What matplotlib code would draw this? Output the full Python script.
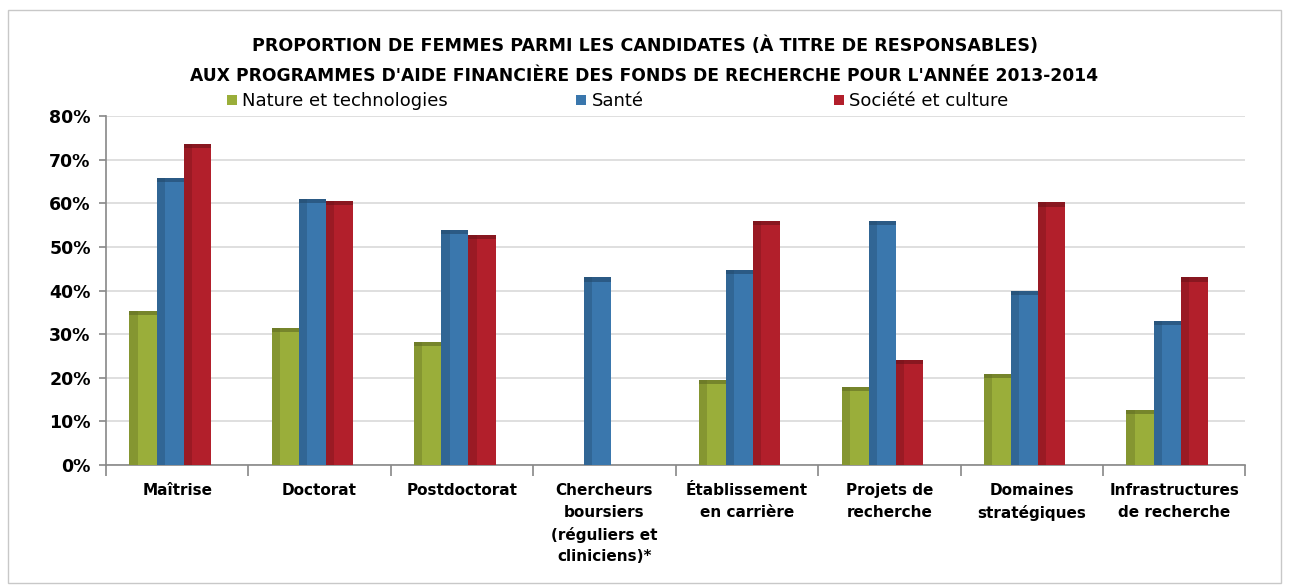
import numpy as np
import matplotlib.pyplot as plt
from matplotlib.patches import Rectangle

categories = ["Maîtrise", "Doctorat", "Postdoctorat",
              "Chercheurs\nboursiers\n(réguliers et\ncliniciens)*",
              "Établissement\nen carrière", "Projets de\nrecherche",
              "Domaines\nstratégiques", "Infrastructures\nde recherche"]
nature = [35.3, 31.4, 28.2, 0, 19.5, 17.9, 20.9, 12.6]
sante = [65.8, 61.0, 53.9, 43.0, 44.8, 56.0, 39.9, 33.0]
societe = [73.6, 60.5, 52.8, 0, 56.0, 24.1, 60.2, 43.0]
series_names = ["Nature et technologies", "Santé", "Société et culture"]
colors = ["#9aae3a", "#3a77ad", "#b21f2b"]
dark = ["#5f6b22", "#22486b", "#6e1319"]

fig = plt.figure(figsize=(12.89, 5.88), dpi=100)
fig.patches.append(Rectangle((0.006, 0.008), 0.988, 0.975, transform=fig.transFigure,
                             fill=False, edgecolor="#c8c8c8", linewidth=1))
ax = fig.add_axes([0.0822, 0.2092, 0.8840, 0.5935])

x = np.arange(len(categories))
w = 0.19
for i, vals in enumerate([nature, sante, societe]):
    pos = x + (i - 1) * w - 0.05
    ax.bar(pos, vals, w, color=colors[i], edgecolor="none", zorder=3)
    # bord gauche et haut plus sombres (effet excel)
    ax.bar(pos - w * 0.35, vals, w * 0.3, color=dark[i], alpha=0.35, edgecolor="none", zorder=4)
    ax.bar(pos, [1.0 if v > 0 else 0 for v in vals], w, bottom=[v - 1.0 for v in vals],
           color=dark[i], alpha=0.6, edgecolor="none", zorder=4)

ax.set_xlim(-0.5, len(categories) - 0.5)
ax.set_ylim(0, 80)
ax.set_yticks(np.arange(0, 81, 10))
ax.set_yticklabels([f"{v}%" for v in range(0, 81, 10)], fontsize=12.5, fontweight="bold")
ax.yaxis.grid(True, color="#d9d9d9", linewidth=1.2, zorder=0)
ax.set_axisbelow(True)

ax.set_xticks(np.arange(-0.5, len(categories), 1))
ax.set_xticklabels([])
ax.set_xticks(x, minor=True)
ax.set_xticklabels(categories, minor=True, fontsize=11, fontweight="bold", linespacing=1.55)
ax.tick_params(axis="x", which="minor", length=0, pad=13)
ax.tick_params(axis="x", which="major", length=8, color="#888888", width=1.2)
ax.tick_params(axis="y", length=5, color="#888888", width=1.2, pad=6)

for s in ["top", "right"]:
    ax.spines[s].set_visible(False)
for s in ["left", "bottom"]:
    ax.spines[s].set_color("#888888")
    ax.spines[s].set_linewidth(1.2)

fig.text(0.5, 0.922, "PROPORTION DE FEMMES PARMI LES CANDIDATES (À TITRE DE RESPONSABLES)",
         ha="center", va="center", fontsize=12.6, fontweight="bold")
fig.text(0.5, 0.871, "AUX PROGRAMMES D'AIDE FINANCIÈRE DES FONDS DE RECHERCHE POUR L'ANNÉE 2013-2014",
         ha="center", va="center", fontsize=12.3, fontweight="bold")

leg_x = [0.176, 0.447, 0.647]
for lx, name, c in zip(leg_x, series_names, colors):
    fig.patches.append(Rectangle((lx, 0.821), 0.0075, 0.018, transform=fig.transFigure,
                                 facecolor=c, edgecolor="none"))
    fig.text(lx + 0.012, 0.829, name, ha="left", va="center", fontsize=13)

fig.savefig("out.png", dpi=100)
